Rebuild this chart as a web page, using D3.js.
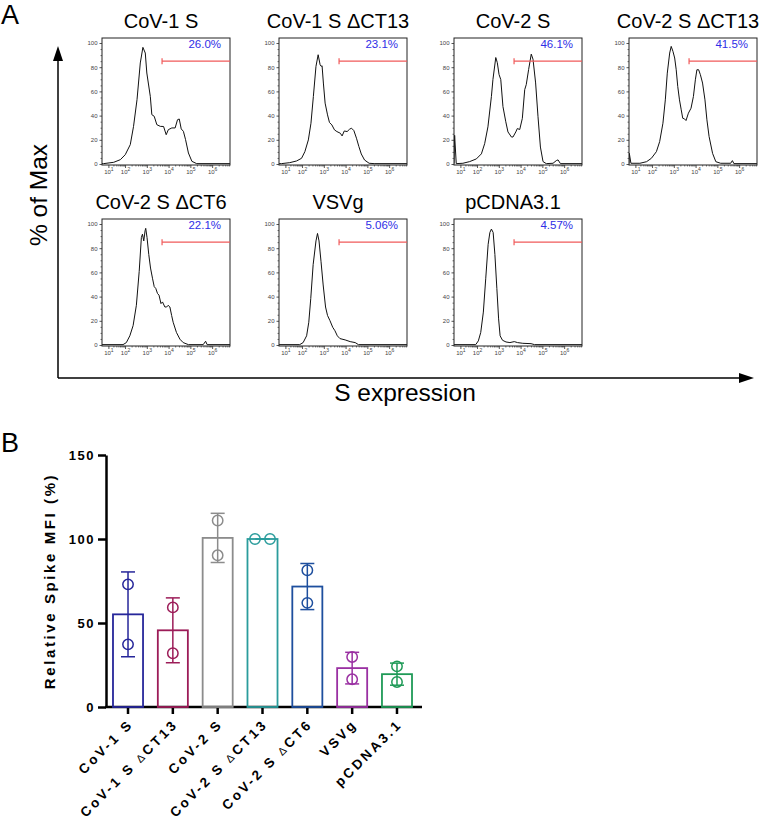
<!DOCTYPE html>
<html>
<head>
<meta charset="utf-8">
<script src="https://cdn.jsdelivr.net/npm/d3@7"></script>
<style>
  body { margin: 0; background: #fff; }
  svg { display: block; font-family: Arial, "Liberation Sans", sans-serif; }
</style>
</head>
<body>
<svg id="fig" width="760" height="821"></svg>
<script>
// ---- data: panel A (flow histograms)
const histTitles = ['CoV-1 S', 'CoV-1 S ΔCT13', 'CoV-2 S', 'CoV-2 S ΔCT13', 'CoV-2 S ΔCT6', 'VSVg', 'pCDNA3.1'];
const gatedPct = ['26.0%', '23.1%', '46.1%', '41.5%', '22.1%', '5.06%', '4.57%'];
const gateStart = 3.7;   // log10 of gate lower bound
const gateLevel = 85;    // % of max where gate is drawn
const decades = [1, 2, 3, 4, 5, 6];

// [log10 intensity, % of max]
const histCov1S = [[0.6, 0.3], [0.7, 0.3], [1.32, 1.4], [1.72, 3.6], [2.01, 7.7], [2.24, 16], [2.39, 31.1], [2.55, 53.2], [2.7, 83.5], [2.82, 96.4], [2.93, 91.7], [3.0, 75.2], [3.16, 55.9], [3.23, 40.8], [3.34, 39.4], [3.46, 32.5], [3.62, 31.1], [3.77, 31], [3.89, 24.2], [3.99, 28.4], [4.15, 29.8], [4.3, 29.8], [4.41, 36.6], [4.49, 37.2], [4.58, 29], [4.68, 27], [4.78, 20.1], [4.91, 9.1], [5.07, 2.2], [5.29, 0.3], [6.82, 0.3]];
const histCov1SdCT13 = [[0.6, 0.3], [0.75, 0.3], [1.26, 1.1], [1.67, 2.5], [1.97, 4.7], [2.13, 10.2], [2.29, 19.9], [2.41, 33.7], [2.52, 55.8], [2.64, 80.7], [2.74, 90.3], [2.83, 82], [2.88, 80.7], [2.92, 81.2], [2.98, 66.9], [3.06, 50.3], [3.17, 40.6], [3.26, 34.3], [3.37, 32.3], [3.49, 28.2], [3.6, 26.8], [3.76, 25.4], [3.84, 23.2], [3.94, 27.3], [4.07, 26.8], [4.18, 28.7], [4.27, 29.6], [4.38, 27.6], [4.5, 21.3], [4.61, 14.4], [4.72, 8.3], [4.87, 3.3], [5.08, 0.6], [5.31, 0.3], [6.82, 0.3]];
const histCov2S = [[0.6, 0.3], [0.64, 23.7], [0.74, 0.3], [1.15, 0.6], [1.56, 2], [1.96, 4.2], [2.2, 8.4], [2.35, 16.8], [2.5, 30.7], [2.66, 55.9], [2.73, 69.8], [2.81, 81], [2.86, 88], [2.93, 83.8], [3.01, 74], [3.09, 69.8], [3.19, 47.5], [3.32, 34.9], [3.42, 26.5], [3.58, 22.3], [3.65, 22.3], [3.78, 26.5], [3.85, 29.3], [3.96, 28.5], [4.08, 37.7], [4.19, 61.5], [4.26, 65.6], [4.37, 78.2], [4.49, 90.8], [4.57, 86.6], [4.69, 67], [4.8, 39.1], [4.91, 14], [5.03, 2], [5.18, 0.3], [5.49, 0.6], [5.64, 2.8], [5.72, 3.4], [5.83, 0.3], [6.82, 0.3]];
const histCov2SdCT13 = [[0.6, 0.3], [0.62, 8.8], [0.72, 0.6], [1.27, 0.6], [1.67, 1.9], [1.96, 4.7], [2.2, 10.2], [2.35, 18.5], [2.5, 33.7], [2.61, 53], [2.7, 75.1], [2.81, 91.7], [2.88, 97.2], [2.96, 93.1], [3.04, 87.6], [3.11, 77.9], [3.18, 64.1], [3.26, 53], [3.34, 44.8], [3.41, 37.8], [3.49, 37.3], [3.56, 35.9], [3.67, 42], [3.79, 46.1], [3.9, 55.8], [3.99, 69.6], [4.06, 77.9], [4.14, 77.9], [4.22, 73.8], [4.32, 66.9], [4.43, 53], [4.52, 36.5], [4.62, 22.7], [4.78, 8.8], [4.93, 1.9], [5.15, 0.6], [5.61, 0.6], [5.69, 2.8], [5.76, 0.3], [6.82, 0.3]];
const histCov2SdCT6 = [[0.6, 0.3], [1.88, 0.3], [2.06, 2], [2.22, 7.6], [2.37, 16], [2.52, 32.8], [2.65, 60.8], [2.75, 88.8], [2.8, 91.6], [2.86, 86], [2.92, 94.4], [2.95, 96.4], [3.01, 88.8], [3.09, 74.8], [3.17, 63.6], [3.26, 55.2], [3.34, 48.2], [3.41, 46.8], [3.49, 42.6], [3.56, 41.2], [3.65, 34.2], [3.72, 35.6], [3.83, 31.4], [3.91, 31.4], [3.98, 32.8], [4.06, 31.4], [4.14, 24.4], [4.21, 18.8], [4.36, 10.4], [4.52, 4.8], [4.67, 2], [4.91, 0.3], [5.59, 0.3], [5.7, 3.1], [5.77, 0.3], [6.82, 0.3]];
const histVSVg = [[0.6, 0.3], [1.86, 0.3], [2.05, 2], [2.21, 7.6], [2.31, 18.8], [2.4, 38.4], [2.51, 66.4], [2.64, 86], [2.71, 92.2], [2.78, 86], [2.87, 69.2], [2.97, 49.6], [3.08, 31.4], [3.17, 24.4], [3.28, 20.2], [3.41, 14.6], [3.51, 11.8], [3.62, 7.6], [3.74, 5.3], [3.98, 4.2], [4.21, 2.8], [4.44, 2], [4.59, 0.3], [6.82, 0.3]];
const histPCDNA = [[0.6, 0.3], [1.92, 0.3], [2.06, 3.4], [2.17, 10.4], [2.29, 27.2], [2.4, 55.2], [2.51, 83.2], [2.59, 93], [2.66, 95.8], [2.74, 93], [2.82, 74.8], [2.91, 46.8], [2.99, 21.6], [3.06, 7.6], [3.17, 3.9], [3.33, 2.5], [3.51, 2], [3.71, 2.8], [3.86, 2], [4.1, 1.4], [4.48, 1.1], [4.64, 0.3], [6.82, 0.3]];
const histograms = [histCov1S, histCov1SdCT13, histCov2S, histCov2SdCT13, histCov2SdCT6, histVSVg, histPCDNA];

// ---- data: panel B (relative spike MFI, two replicates)
const barLabels = ['CoV-1 S', 'CoV-1 S ΔCT13', 'CoV-2 S', 'CoV-2 S ΔCT13', 'CoV-2 S ΔCT6', 'VSVg', 'pCDNA3.1'];
const rep1 = [73, 59.3, 111, 100, 81.4, 29.8, 24.2];
const rep2 = [37.3, 32, 90.3, 100, 62, 16.5, 14.9];
const yTicksB = [0, 50, 100, 150];

const barColors = ['#26269a', '#9c1c58', '#8c8c8c', '#2a9c9c', '#1e4f9e', '#9a30a2', '#1f9a57'];

const svg = d3.select('#fig');

// ================= panel A =================
const boxW = 128, boxH = 127;
const colX = [102, 279, 454, 629];
const rowY = [38, 219];

svg.append('text').attr('x', 1).attr('y', 24).style('font-size', '27px').text('A');

const defs = svg.append('defs');
defs.append('clipPath').attr('id', 'boxclip')
    .append('rect').attr('width', boxW).attr('height', boxH);

// minor tick positions for the log axis
const minorTicks = [];
decades.forEach(function (n) {
    d3.range(2, 10).forEach(function (k) {
        const v = n + Math.log10(k);
        if (v < 6.82) minorTicks.push(v);
    });
});

histograms.forEach(function (data, i) {
    const col = i % 4, row = Math.floor(i / 4);
    const g = svg.append('g').attr('transform', 'translate(' + colX[col] + ',' + rowY[row] + ')');

    const x = d3.scaleLinear().domain([0.6, 1, 2, 6.82]).range([0, boxW * 0.05, boxW * 0.18, boxW]);
    const y = d3.scaleLinear().domain([0, 100]).range([boxH - 1, 5]);

    // title (centred on plot incl. its tick labels)
    g.append('text').attr('x', boxW / 2 - 5).attr('y', -10).attr('text-anchor', 'middle')
        .style('font-size', '20px').text(histTitles[i]);

    // y axis (major + minor)
    const yAx = g.append('g').call(d3.axisLeft(y).tickValues([0, 20, 40, 60, 80, 100]).tickSize(2.5).tickPadding(2));
    yAx.select('.domain').remove();
    yAx.selectAll('text').style('font-size', '6px').attr('fill', '#444');
    yAx.selectAll('line').attr('stroke', '#555');
    const yMin = g.append('g').call(d3.axisLeft(y)
        .tickValues(d3.range(0, 101, 5).filter(function (v) { return v % 20; }))
        .tickSize(1.5).tickFormat(''));
    yMin.select('.domain').remove();
    yMin.selectAll('line').attr('stroke', '#777');

    // x axis (decades + minor)
    const xAx = g.append('g').attr('transform', 'translate(0,' + boxH + ')')
        .call(d3.axisBottom(x).tickValues(decades).tickSize(3).tickPadding(2).tickFormat(''));
    xAx.select('.domain').remove();
    xAx.selectAll('line').attr('stroke', '#555');
    xAx.selectAll('.tick text').text('10').style('font-size', '6px').attr('fill', '#444')
        .append('tspan').attr('dy', '-3').style('font-size', '5px').text(function (d) { return d; });
    const xMin = g.append('g').attr('transform', 'translate(0,' + boxH + ')')
        .call(d3.axisBottom(x).tickValues(minorTicks).tickSize(1.5).tickFormat(''));
    xMin.select('.domain').remove();
    xMin.selectAll('line').attr('stroke', '#777');

    // histogram curve
    const line = d3.line().x(function (d) { return x(d[0]); }).y(function (d) { return y(d[1]); });
    g.append('path').datum(data).attr('clip-path', 'url(#boxclip)')
        .attr('d', line).attr('fill', 'none').attr('stroke', '#111').attr('stroke-width', 1);

    // box
    g.append('rect').attr('width', boxW).attr('height', boxH)
        .attr('fill', 'none').attr('stroke', '#222').attr('stroke-width', 1);

    // gate
    const gy = y(gateLevel);
    g.append('line').attr('x1', x(gateStart)).attr('x2', boxW).attr('y1', gy).attr('y2', gy)
        .attr('stroke', '#f05a5a').attr('stroke-width', 1.2);
    g.append('line').attr('x1', x(gateStart)).attr('x2', x(gateStart)).attr('y1', gy - 3).attr('y2', gy + 3)
        .attr('stroke', '#f05a5a').attr('stroke-width', 1.2);

    g.append('text').attr('x', boxW - 9).attr('y', 10).attr('text-anchor', 'end')
        .style('font-size', '11.5px').attr('fill', '#2e2ee6').text(gatedPct[i]);
});

// big arrows
const arrow = svg.append('g').attr('stroke', '#000').attr('stroke-width', 1.5);
arrow.append('line').attr('x1', 58).attr('x2', 58).attr('y1', 378).attr('y2', 58);
arrow.append('line').attr('x1', 58).attr('x2', 742).attr('y1', 378).attr('y2', 378);
svg.append('path').attr('d', 'M58,46 L53,61 L63,61 Z').attr('fill', '#000');
svg.append('path').attr('d', 'M754,378 L739,373 L739,383 Z').attr('fill', '#000');

svg.append('text').attr('transform', 'translate(47,195) rotate(-90)').attr('text-anchor', 'middle')
    .style('font-size', '24.5px').text('% of Max');
svg.append('text').attr('x', 405).attr('y', 401).attr('text-anchor', 'middle')
    .style('font-size', '24.5px').text('S expression');

// ================= panel B =================
svg.append('text').attr('x', 1).attr('y', 452).style('font-size', '27px').text('B');

const bx = d3.scaleBand().domain(barLabels).range([106, 419]).paddingInner(0.33).paddingOuter(0.156);
const by = d3.scaleLinear().domain([0, 150]).range([707, 455]);

const bars = barLabels.map(function (name, i) {
    const vals = [rep1[i], rep2[i]];
    return { name: name, vals: vals, mean: d3.mean(vals), sd: d3.deviation(vals) || 0, color: barColors[i] };
});

const yAxB = svg.append('g').attr('transform', 'translate(106,0)')
    .call(d3.axisLeft(by).tickValues(yTicksB).tickSize(8).tickSizeOuter(0).tickPadding(3));
yAxB.selectAll('line').attr('stroke-width', 2.5);
yAxB.select('.domain').attr('stroke-width', 2.5);
yAxB.selectAll('text').style('font-size', '13px').style('font-weight', 'bold').style('letter-spacing', '1.5px');

svg.append('text').attr('transform', 'translate(55,581) rotate(-90)').attr('text-anchor', 'middle')
    .style('font-size', '15px').style('font-weight', 'bold').style('letter-spacing', '2.6px')
    .text('Relative Spike MFI (%)');

const xAxB = svg.append('g').attr('transform', 'translate(0,707)')
    .call(d3.axisBottom(bx).tickSize(7).tickSizeOuter(0));
xAxB.select('.domain').remove();
xAxB.selectAll('line').attr('stroke-width', 2.5);
xAxB.selectAll('text').remove();
svg.append('line').attr('x1', 105).attr('x2', 422).attr('y1', 707).attr('y2', 707)
    .attr('stroke', '#000').attr('stroke-width', 2.5);

// rotated category labels, Δ set lighter like the original
barLabels.forEach(function (name) {
    const cx = bx(name) + bx.bandwidth() / 2;
    const t = svg.append('text').attr('transform', 'translate(' + (cx + 6) + ',725) rotate(-45)')
        .attr('text-anchor', 'end').style('font-size', '13.5px').style('font-weight', 'bold')
        .style('letter-spacing', '2.8px');
    const parts = name.split('Δ');
    t.append('tspan').text(parts[0]);
    if (parts.length > 1) {
        t.append('tspan').style('font-weight', 'normal').style('font-size', '11px').text('Δ');
        t.append('tspan').text(parts[1]);
    }
});

const bg = svg.append('g').selectAll('g').data(bars).enter().append('g');

bg.append('rect')
    .attr('x', function (d) { return bx(d.name); })
    .attr('width', bx.bandwidth())
    .attr('y', function (d) { return by(d.mean); })
    .attr('height', function (d) { return by(0) - by(d.mean); })
    .attr('fill', 'none')
    .attr('stroke', function (d) { return d.color; })
    .attr('stroke-width', 1.8);

// error bars (mean ± SD)
bg.each(function (d) {
    const g = d3.select(this);
    const cx = bx(d.name) + bx.bandwidth() / 2;
    const yTop = by(d.mean + d.sd), yBot = by(d.mean - d.sd);
    g.append('line').attr('x1', cx).attr('x2', cx).attr('y1', yTop).attr('y2', yBot)
        .attr('stroke', d.color).attr('stroke-width', 1.5);
    [yTop, yBot].forEach(function (yy) {
        g.append('line').attr('x1', cx - 7).attr('x2', cx + 7).attr('y1', yy).attr('y2', yy)
            .attr('stroke', d.color).attr('stroke-width', 1.5);
    });
    // replicate points, spread sideways if they overlap
    const overlap = Math.abs(by(d.vals[0]) - by(d.vals[1])) < 10;
    d.vals.forEach(function (v, k) {
        const dx = overlap ? (k === 0 ? -7.5 : 7.5) : 0;
        g.append('circle').attr('cx', cx + dx).attr('cy', by(v)).attr('r', 5.2)
            .attr('fill', 'none').attr('stroke', d.color).attr('stroke-width', 1.5);
    });
});
</script>
</body>
</html>
